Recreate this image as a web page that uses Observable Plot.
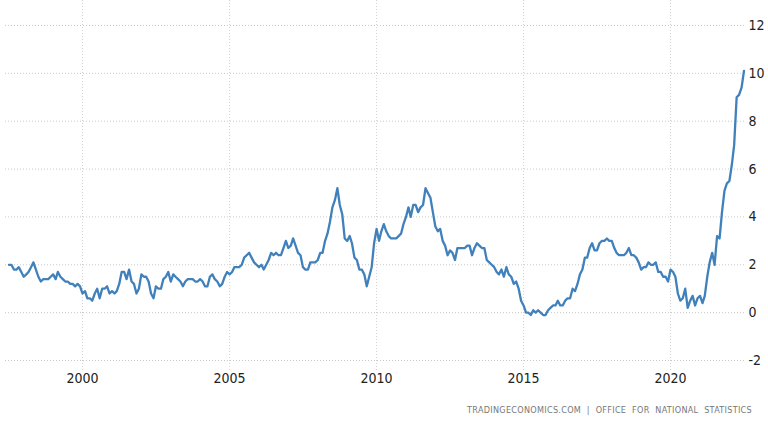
<!DOCTYPE html>
<html>
<head>
<meta charset="utf-8">
<script src="https://cdn.jsdelivr.net/npm/d3@7"></script>
<script src="https://cdn.jsdelivr.net/npm/@observablehq/plot@0.6"></script>
<style>
  html, body { margin: 0; padding: 0; background: #fff; }
  #wrap { position: relative; width: 768px; height: 432px; }
  #chart svg text { font-family: "Liberation Sans Narrow", "DejaVu Sans Condensed", sans-serif !important; font-size: 14px; }
  #caption { position: absolute; right: 16px; top: 405px; font: 9px "DejaVu Sans Condensed", "DejaVu Sans", sans-serif; color: #777; letter-spacing: 0.3px; white-space: pre; }
</style>
</head>
<body>
<div id="wrap"><div id="chart"></div><div id="caption">TRADINGECONOMICS.COM  |  OFFICE  FOR  NATIONAL  STATISTICS</div></div>
<script>
// UK CPI inflation rate, monthly, July 1997 - July 2022 (%)
const startYear = 1997, startMonth = 7;
const values = [
  // 1997 Jul-Dec
  2.0, 2.0, 1.8, 1.8, 1.9, 1.7,
  // 1998
  1.5, 1.6, 1.7, 1.9, 2.1, 1.8, 1.5, 1.3, 1.4, 1.4, 1.4, 1.5,
  // 1999
  1.6, 1.4, 1.7, 1.5, 1.4, 1.3, 1.3, 1.2, 1.2, 1.1, 1.2, 1.1,
  // 2000
  0.8, 0.9, 0.6, 0.6, 0.5, 0.8, 1.0, 0.6, 1.0, 1.0, 1.1, 0.8,
  // 2001
  0.9, 0.8, 0.9, 1.2, 1.7, 1.7, 1.4, 1.8, 1.3, 1.2, 0.8, 1.0,
  // 2002
  1.6, 1.5, 1.5, 1.3, 0.8, 0.6, 1.1, 1.0, 1.0, 1.4, 1.5, 1.7,
  // 2003
  1.3, 1.6, 1.5, 1.4, 1.3, 1.1, 1.3, 1.4, 1.4, 1.4, 1.3, 1.3,
  // 2004
  1.4, 1.3, 1.1, 1.1, 1.5, 1.6, 1.4, 1.3, 1.1, 1.2, 1.5, 1.7,
  // 2005
  1.6, 1.7, 1.9, 1.9, 1.9, 2.0, 2.3, 2.4, 2.5, 2.3, 2.1, 2.0,
  // 2006
  1.9, 2.0, 1.8, 2.0, 2.2, 2.5, 2.4, 2.5, 2.4, 2.4, 2.7, 3.0,
  // 2007
  2.7, 2.8, 3.1, 2.8, 2.5, 2.4, 1.9, 1.8, 1.8, 2.1, 2.1, 2.1,
  // 2008
  2.2, 2.5, 2.5, 3.0, 3.3, 3.8, 4.4, 4.7, 5.2, 4.5, 4.1, 3.1,
  // 2009
  3.0, 3.2, 2.9, 2.3, 2.2, 1.8, 1.8, 1.6, 1.1, 1.5, 1.9, 2.9,
  // 2010
  3.5, 3.0, 3.4, 3.7, 3.4, 3.2, 3.1, 3.1, 3.1, 3.2, 3.3, 3.7,
  // 2011
  4.0, 4.4, 4.0, 4.5, 4.5, 4.2, 4.4, 4.5, 5.2, 5.0, 4.8, 4.2,
  // 2012
  3.6, 3.4, 3.5, 3.0, 2.8, 2.4, 2.6, 2.5, 2.2, 2.7, 2.7, 2.7,
  // 2013
  2.7, 2.8, 2.8, 2.4, 2.7, 2.9, 2.8, 2.7, 2.7, 2.2, 2.1, 2.0,
  // 2014
  1.9, 1.7, 1.6, 1.8, 1.5, 1.9, 1.6, 1.5, 1.2, 1.3, 1.0, 0.5,
  // 2015
  0.3, 0.0, 0.0, -0.1, 0.1, 0.0, 0.1, 0.0, -0.1, -0.1, 0.1, 0.2,
  // 2016
  0.3, 0.3, 0.5, 0.3, 0.3, 0.5, 0.6, 0.6, 1.0, 0.9, 1.2, 1.6,
  // 2017
  1.8, 2.3, 2.3, 2.7, 2.9, 2.6, 2.6, 2.9, 3.0, 3.0, 3.1, 3.0,
  // 2018
  3.0, 2.7, 2.5, 2.4, 2.4, 2.4, 2.5, 2.7, 2.4, 2.4, 2.3, 2.1,
  // 2019
  1.8, 1.9, 1.9, 2.1, 2.0, 2.0, 2.1, 1.7, 1.7, 1.5, 1.5, 1.3,
  // 2020
  1.8, 1.7, 1.5, 0.8, 0.5, 0.6, 1.0, 0.2, 0.5, 0.7, 0.3, 0.6,
  // 2021
  0.7, 0.4, 0.7, 1.5, 2.1, 2.5, 2.0, 3.2, 3.1, 4.2, 5.1, 5.4,
  // 2022 Jan-Jul
  5.5, 6.2, 7.0, 9.0, 9.1, 9.4, 10.1
];
const yTicks = [-2, 0, 2, 4, 6, 8, 10, 12];
const xTickYears = [2000, 2005, 2010, 2015, 2020];

const data = values.map((v, i) => ({
  date: new Date(startYear, startMonth - 1 + i, 1),
  value: v
}));
const xTicks = xTickYears.map(y => new Date(y, 0, 1));

const chart = Plot.plot({
  width: 768,
  height: 395,
  marginTop: 25,
  marginBottom: 35,
  marginLeft: 5,
  marginRight: 23,
  style: { fontSize: "14px", color: "#222", background: "#fff" },
  x: { type: "utc", domain: [new Date(1997, 4, 19), new Date(2022, 6, 20)], label: null },
  y: { domain: [-2, 12], label: null },
  marks: [
    Plot.ruleY(yTicks, { stroke: "#c8c8c8", strokeDasharray: "1,2", strokeWidth: 1 }),
    Plot.ruleX(xTicks, { stroke: "#d0d0d0", strokeDasharray: "1,2", strokeWidth: 1, insetTop: -25, insetBottom: -10 }),
    Plot.axisY(yTicks, { anchor: "right", tickSize: 0, tickPadding: 3, textAnchor: "start", tickFormat: d => String(d), label: null, fill: "#222" }),
    Plot.axisX(xTicks, { anchor: "bottom", tickSize: 0, tickPadding: 13, tickFormat: d => String(d.getFullYear()), label: null, fill: "#222" }),
    Plot.line(data, { x: "date", y: "value", stroke: "#4080bb", strokeWidth: 2.3, curve: "linear" })
  ]
});
document.getElementById("chart").appendChild(chart);
</script>
</body>
</html>
